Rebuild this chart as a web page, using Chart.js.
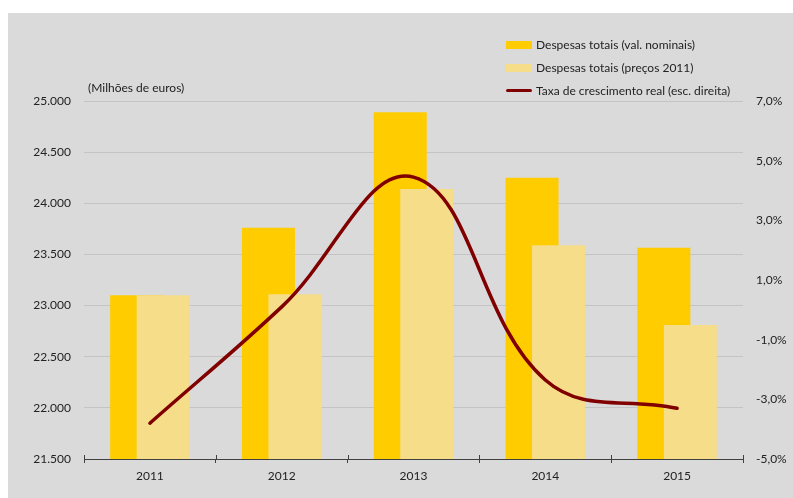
<!DOCTYPE html>
<html>
<head>
<meta charset="utf-8">
<script src="https://cdn.jsdelivr.net/npm/chart.js@4.4.1/dist/chart.umd.min.js"></script>
<style>
  body { margin: 0; background: #fff; }
  #box { position: absolute; left: 8px; top: 13px; width: 785px; height: 485px; background: #dadada; }
  #legenda { position: absolute; left: 498px; top: 20px; font: 12px Lato, sans-serif; color: #222; }
  #legenda div { height: 23px; display: flex; align-items: center; }
  #legenda span.cor { display: inline-block; width: 26px; margin-right: 4px; }
</style>
</head>
<body>
<div id="box">
  <canvas id="grafico" width="785" height="485"></canvas>
  <div id="legenda"></div>
</div>
<script>
// dados
const anos = ['2011', '2012', '2013', '2014', '2015'];
const despNominais = [23100, 23760, 24890, 24250, 23565];
const despPrecos2011 = [23100, 23110, 24140, 23590, 22810];
const taxaReal = [-3.8, 0.1, 4.45, -2.35, -3.3];

const nomes = ['Despesas totais (val. nominais)', 'Despesas totais (preços 2011)', 'Taxa de crescimento real (esc. direita)'];
const cores = ['#ffcc00', '#f5dd8a', '#800000'];

const fonte = { family: 'Lato, sans-serif', size: 12 };

function milhares(v) {
  return String(v).replace(/\B(?=(\d{3})+(?!\d))/g, '.');
}

// as barras a preços 2011 ficam por cima das nominais
const ordemBarras = {
  id: 'ordemBarras',
  beforeDatasetDraw(chart, args) {
    if (args.index === 0) return false;
    if (args.index === 1) {
      const a = chart.chartArea;
      const c = chart.ctx;
      c.save();
      c.beginPath();
      c.rect(a.left, a.top, a.right - a.left, a.bottom - a.top);
      c.clip();
      chart.getDatasetMeta(0).controller.draw();
      c.restore();
    }
  }
};

// traços do eixo x também para cima
const tracosEixo = {
  id: 'tracosEixo',
  afterDatasetsDraw(chart) {
    const x = chart.scales.x;
    const c = chart.ctx;
    const y = chart.chartArea.bottom;
    c.save();
    c.strokeStyle = '#404040';
    c.lineWidth = 1;
    c.beginPath();
    for (let i = 0; i <= anos.length; i++) {
      const px = Math.round(x.left + (x.width / anos.length) * i) + 0.5;
      c.moveTo(px, y - 4);
      c.lineTo(px, y);
    }
    c.stroke();
    c.restore();
  }
};

const tituloEixo = {
  id: 'tituloEixo',
  afterDraw(chart) {
    const c = chart.ctx;
    c.save();
    c.font = '12px Lato, sans-serif';
    c.fillStyle = '#222';
    c.textBaseline = 'middle';
    c.fillText('(Milhões de euros)', chart.chartArea.left + 4, chart.chartArea.top - 13);
    c.restore();
  }
};

const ctx = document.getElementById('grafico').getContext('2d');
const grafico = new Chart(ctx, {
  type: 'bar',
  data: {
    labels: anos,
    datasets: [
      {
        label: nomes[0],
        data: despNominais,
        backgroundColor: cores[0],
        yAxisID: 'y',
        order: 1,
        categoryPercentage: 0.402,
        barPercentage: 2.0
      },
      {
        label: nomes[1],
        data: despPrecos2011,
        backgroundColor: cores[1],
        yAxisID: 'y',
        order: 2,
        categoryPercentage: 0.402,
        barPercentage: 2.0
      },
      {
        type: 'line',
        label: nomes[2],
        data: taxaReal,
        borderColor: cores[2],
        backgroundColor: cores[2],
        borderWidth: 3.5,
        borderCapStyle: 'round',
        pointRadius: 0,
        tension: 0.4,
        yAxisID: 'y2',
        order: 0
      }
    ]
  },
  options: {
    responsive: false,
    animation: false,
    layout: { padding: { top: 88, left: 0, right: 0, bottom: 0 } },
    plugins: {
      legend: { display: false },
      tooltip: { enabled: false }
    },
    scales: {
      x: {
        offset: true,
        grid: { display: true, offset: true, drawOnChartArea: false, color: '#404040', tickLength: 4 },
        border: { display: true, color: '#404040' },
        ticks: { font: fonte, color: '#222', padding: 6 },
        afterFit(scale) { scale.height = 39; }
      },
      y: {
        position: 'left',
        min: 21500,
        max: 25000,
        grid: { color: '#c4c4c4', drawTicks: false },
        border: { display: false },
        ticks: {
          stepSize: 500,
          font: fonte,
          color: '#222',
          padding: 13,
          callback: v => milhares(v)
        },
        afterFit(scale) { scale.width = 76; }
      },
      y2: {
        position: 'right',
        min: -5,
        max: 7,
        grid: { display: false, drawTicks: false },
        border: { display: false },
        ticks: {
          stepSize: 2,
          font: fonte,
          color: '#222',
          padding: 13,
          callback: v => v.toFixed(1).replace('.', ',') + '%'
        },
        afterFit(scale) { scale.width = 50; }
      }
    }
  },
  plugins: [ordemBarras, tracosEixo, tituloEixo]
});

// legenda
const legenda = document.getElementById('legenda');
grafico.data.datasets.forEach(ds => {
  const linha = document.createElement('div');
  const cor = document.createElement('span');
  cor.className = 'cor';
  if (ds.type === 'line') {
    cor.style.height = '3px';
    cor.style.borderRadius = '2px';
    cor.style.background = ds.borderColor;
  } else {
    cor.style.height = '8px';
    cor.style.background = ds.backgroundColor;
  }
  linha.appendChild(cor);
  linha.appendChild(document.createTextNode(ds.label));
  legenda.appendChild(linha);
});
</script>
</body>
</html>
